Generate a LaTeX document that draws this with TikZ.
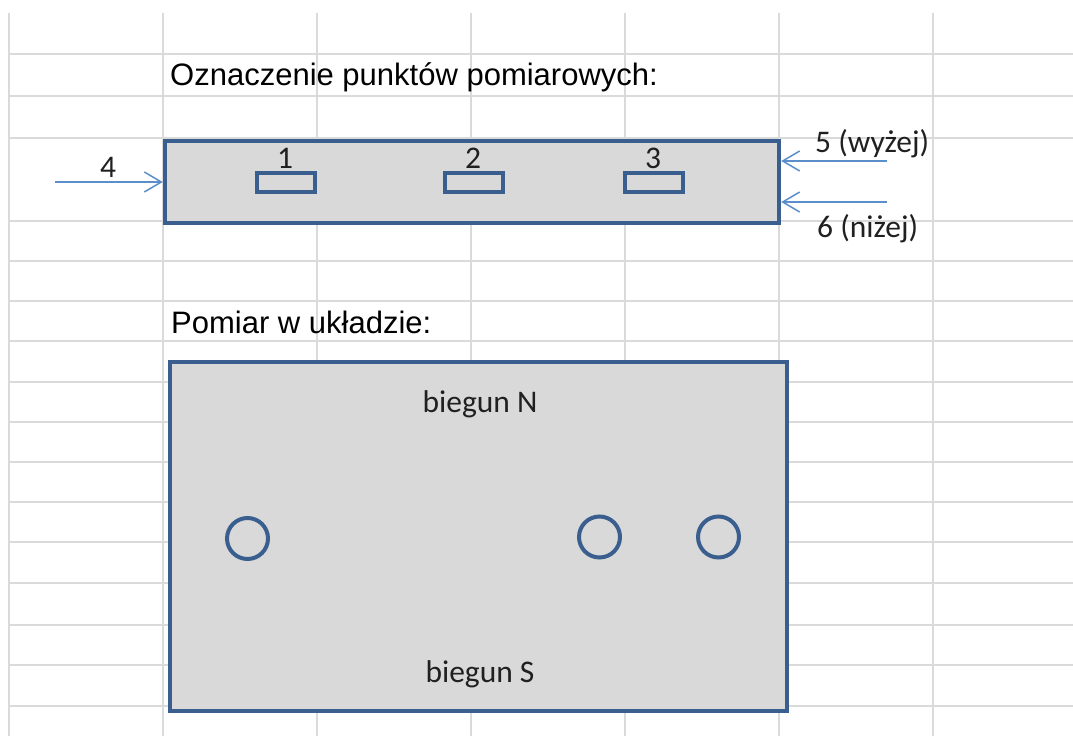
\documentclass[tikz,border=0pt]{standalone}
\usepackage{fontspec}
\setmainfont{Liberation Sans}
\newfontfamily\calib{Carlito}
\usetikzlibrary{arrows.meta}
\definecolor{gridc}{HTML}{DADADA}
\definecolor{boxc}{HTML}{3A5F8F}
\definecolor{boxfill}{HTML}{D9D9D9}
\definecolor{arrc}{HTML}{5B8FCB}
\definecolor{lblc}{HTML}{202020}
\begin{document}
\begin{tikzpicture}[x=1pt,y=-1pt,
  gridline/.style={draw=gridc,line width=1.5pt},
  title/.style={font=\fontsize{31}{36}\selectfont,inner sep=0pt,text=black},
  lbl/.style={font=\calib\fontsize{31.5}{36}\selectfont,inner sep=0pt,text=lblc},
  bigbox/.style={draw=boxc,fill=boxfill,line width=4.5pt,inner sep=0pt,outer sep=2.2pt,rectangle},
  probe/.style={draw=boxc,fill=boxfill,line width=4pt,inner sep=0pt,rectangle,minimum width=58pt,minimum height=19pt},
  hole/.style={draw=boxc,line width=4pt,circle,inner sep=0pt,minimum size=41pt},
  arr/.style={draw=arrc,line width=1.5pt,-{Straight Barb[length=17pt,width=20pt,line width=1.5pt]}}
]
\useasboundingbox (0,0) rectangle (1073,736);
\fill[white] (0,0) rectangle (1073,736);
% grid
\foreach \y in {54,96,138,221,261,301,341,382,422,462,502,542,583,625,665,706}
  \draw[gridline] (9,\y) -- (1073,\y);
\foreach \x in {9,163,317,471,625,779,933}
  \draw[gridline] (\x,13) -- (\x,736);
% titles
\node[title,anchor=base west] (t1) at (170,85) {Oznaczenie punktów pomiarowych:};
\node[title,anchor=base west] (t2) at (171,333) {Pomiar w układzie:};
% top box
\node[bigbox,minimum width=614pt,minimum height=82pt] (top) at (472,182) {};
\node[probe] (p1) at (286,182.5) {};
\node[probe] (p2) at (473.5,182.5) {};
\node[probe] (p3) at (653.5,182.5) {};
\node[lbl,anchor=base] (l1) at (285,168) {1};
\node[lbl,anchor=base] (l2) at (473,168) {2};
\node[lbl,anchor=base] (l3) at (653,168) {3};
% arrows
\coordinate (s4) at (55,182);
\coordinate (s5) at (887,161);
\coordinate (s6) at (887,202);
\draw[arr] (s4) -- (top.west);
\draw[arr] (s5) -- (s5 -| top.east);
\draw[arr] (s6) -- (s6 -| top.east);
\node[lbl,anchor=base] (l4) at (108,177) {4};
\node[lbl,anchor=base west] (l5) at (815,152) {5 (wyżej)};
\node[lbl,anchor=base west] (l6) at (817,237) {6 (niżej)};
% bottom box
\node[bigbox,minimum width=617pt,minimum height=349pt] (bot) at (478.5,536.5) {};
\node[hole] (c1) at (247.5,538.5) {};
\node[hole] (c2) at (599.5,537) {};
\node[hole] (c3) at (718.5,537) {};
\node[lbl,anchor=base] (bn) at (480,412) {biegun N};
\node[lbl,anchor=base] (bs) at (480,682) {biegun S};
\end{tikzpicture}
\end{document}
